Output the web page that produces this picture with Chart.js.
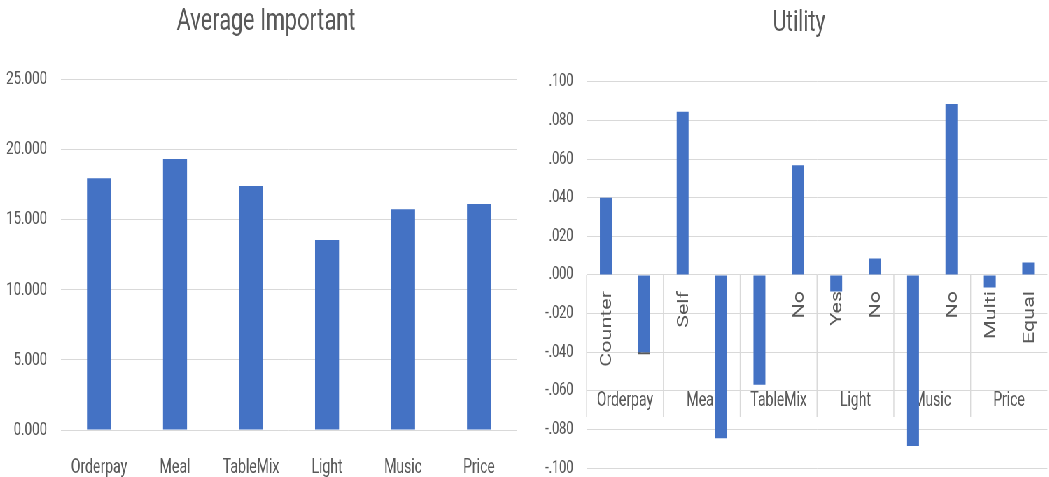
<!DOCTYPE html>
<html>
<head>
<meta charset="utf-8">
<script src="https://cdn.jsdelivr.net/npm/chart.js@4.4.1/dist/chart.umd.min.js"></script>
<style>
  html, body { margin: 0; padding: 0; background: #ffffff; overflow: hidden; }
  #wrap {
    position: absolute; left: 0; top: 0;
    width: 1523px; height: 498px;
    display: flex; align-items: flex-start;
    transform: scaleX(0.7); transform-origin: 0 0;
  }
  canvas { display: block; }
</style>
</head>
<body>
<div id="wrap">
  <canvas id="importance" width="760" height="477"></canvas>
  <canvas id="utility" width="763" height="498"></canvas>
</div>
<script>
// Average importance per attribute
const attributes = ['Orderpay', 'Meal', 'TableMix', 'Light', 'Music', 'Price'];
const importanceValues = [17.95, 19.33, 17.40, 13.55, 15.74, 16.12];
const importanceTickLabels = ['0.000', '5.000', '10.000', '15.000', '20.000', '25.000'];

// Part-worth utility per attribute level
const levels = ['Counter', 'Mobile', 'Self', 'Table', 'Yes', 'No', 'Yes', 'No', 'Yes', 'No', 'Multi', 'Equal'];
const levelGroups = ['Orderpay', 'Meal', 'TableMix', 'Light', 'Music', 'Price'];
const utilityValues = [0.040, -0.040, 0.0845, -0.0845, -0.0568, 0.0568, -0.0085, 0.0085, -0.0885, 0.0885, -0.0065, 0.0065];
const utilityTickLabels = ['-.100', '-.080', '-.060', '-.040', '-.020', '.000', '.020', '.040', '.060', '.080', '.100'];

const TEXT = '#595959';
const GRID = '#d9d9d9';
const BAR = '#4472C4';
const SQUEEZE = 0.7; // horizontal scale applied to #wrap

Chart.defaults.font.family = 'Roboto';
Chart.defaults.color = TEXT;

// empty right-hand gutter so the title stays centred on the whole canvas
const gutter = (w) => ({
  position: 'right',
  grid: { display: false },
  border: { display: false },
  ticks: { display: false },
  afterFit: (s) => { s.width = w; }
});

new Chart(document.getElementById('importance'), {
  type: 'bar',
  data: {
    labels: attributes,
    datasets: [{
      data: importanceValues,
      backgroundColor: BAR,
      barPercentage: 0.316,
      categoryPercentage: 1
    }]
  },
  options: {
    responsive: false,
    animation: false,
    layout: { padding: 0 },
    plugins: {
      legend: { display: false },
      tooltip: { enabled: false },
      title: {
        display: true,
        text: 'Average Important',
        color: TEXT,
        font: { size: 31, weight: 'normal' },
        padding: { top: 4, bottom: 38.3 }
      }
    },
    scales: {
      x: {
        grid: { display: false },
        border: { display: false },
        ticks: { color: TEXT, font: { size: 20 }, padding: 18 },
        afterFit: (s) => { s.height = 47; }
      },
      y: {
        min: 0, max: 25,
        grid: { color: GRID, drawTicks: false },
        border: { display: false },
        ticks: {
          stepSize: 5, color: TEXT, font: { size: 19 }, padding: 20,
          callback: (v, i) => importanceTickLabels[i]
        },
        afterFit: (s) => { s.width = 87.1; }
      },
      gutter: gutter(21.4)
    }
  }
});

// Level names under the zero line, group names and group separators
const LEVEL_FONT = 21.5;
const levelAxis = {
  id: 'levelAxis',
  beforeDatasetsDraw(chart) {
    const { ctx, scales: { x, y } } = chart;
    const zeroY = y.getPixelForValue(0);
    const cw = x.getPixelForValue(1) - x.getPixelForValue(0);
    ctx.save();
    ctx.strokeStyle = GRID;
    ctx.lineWidth = 1 / SQUEEZE;
    levelGroups.forEach((g, gi) => {
      const left = x.getPixelForValue(gi * 2) - cw / 2;
      ctx.beginPath();
      ctx.moveTo(left, zeroY);
      ctx.lineTo(left, zeroY + 142);
      ctx.stroke();
    });
    ctx.fillStyle = TEXT;
    ctx.font = LEVEL_FONT + 'px Roboto';
    levels.forEach((lv, i) => {
      ctx.save();
      ctx.translate(x.getPixelForValue(i), zeroY + 16);
      ctx.rotate(-Math.PI / 2);
      ctx.textAlign = 'right';
      ctx.textBaseline = 'alphabetic';
      // centre the capitals on the bar position
      ctx.fillText(lv, 0, LEVEL_FONT * 0.36);
      ctx.restore();
    });
    ctx.font = '20px Roboto';
    ctx.textAlign = 'center';
    ctx.textBaseline = 'middle';
    levelGroups.forEach((g, gi) => {
      const cx = (x.getPixelForValue(gi * 2) + x.getPixelForValue(gi * 2 + 1)) / 2;
      ctx.fillText(g, cx, zeroY + 126.5);
    });
    ctx.restore();
  }
};

new Chart(document.getElementById('utility'), {
  type: 'bar',
  data: {
    labels: levels,
    datasets: [{
      data: utilityValues,
      backgroundColor: BAR,
      barPercentage: 0.31,
      categoryPercentage: 1
    }]
  },
  options: {
    responsive: false,
    animation: false,
    layout: { padding: 0 },
    plugins: {
      legend: { display: false },
      tooltip: { enabled: false },
      title: {
        display: true,
        text: 'Utility',
        color: TEXT,
        font: { size: 30, weight: 'normal' },
        padding: { top: 5.3, bottom: 40.4 }
      }
    },
    scales: {
      x: { display: false },
      y: {
        min: -0.1, max: 0.1,
        grid: { color: GRID, drawTicks: false },
        border: { display: false },
        ticks: {
          stepSize: 0.02, color: TEXT, font: { size: 18 }, padding: 19,
          callback: (v, i) => utilityTickLabels[i]
        },
        afterFit: (s) => { s.width = 78.1; }
      },
      gutter: gutter(26.6)
    }
  },
  plugins: [levelAxis]
});
</script>
</body>
</html>
